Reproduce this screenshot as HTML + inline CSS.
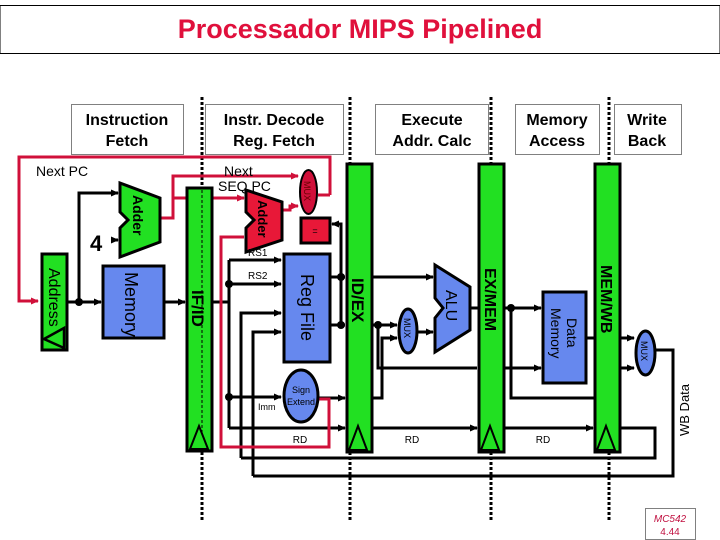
<!DOCTYPE html>
<html><head><meta charset="utf-8"><style>
html,body{margin:0;padding:0;background:#fff;}
svg{display:block;font-family:"Liberation Sans",sans-serif;}
</style></head><body>
<svg width="720" height="540" viewBox="0 0 720 540" xmlns="http://www.w3.org/2000/svg">
<defs>
<marker id="ab" markerWidth="8" markerHeight="8" refX="7" refY="4" orient="auto" markerUnits="userSpaceOnUse"><path d="M0,0.5 L8,4 L0,7.5z" fill="#000"/></marker>
<marker id="ar" markerWidth="8" markerHeight="8" refX="7" refY="4" orient="auto" markerUnits="userSpaceOnUse"><path d="M0,0.5 L8,4 L0,7.5z" fill="#d0103a"/></marker>
</defs>
<rect x="0.5" y="5.5" width="719" height="48" fill="#fff" stroke="#000" stroke-dasharray="1,1"/>
<line x1="0" y1="5.5" x2="720" y2="5.5" stroke="#000" stroke-width="1"/>
<line x1="0" y1="53.5" x2="720" y2="53.5" stroke="#000" stroke-width="1"/>
<text x="360" y="38" text-anchor="middle" font-size="27" font-weight="bold" fill="#e0103c">Processador MIPS Pipelined</text>
<g fill="#fff" stroke="#000" stroke-dasharray="1,1">
<rect x="71.5" y="104.5" width="112" height="50"/>
<rect x="205.5" y="104.5" width="138" height="50"/>
<rect x="375.5" y="104.5" width="113" height="50"/>
<rect x="515.5" y="104.5" width="84" height="50"/>
<rect x="614.5" y="104.5" width="67" height="50"/>
</g>
<g font-size="16" font-weight="bold" text-anchor="middle">
<text x="127" y="125">Instruction</text><text x="127" y="146">Fetch</text>
<text x="274" y="125">Instr. Decode</text><text x="274" y="146">Reg. Fetch</text>
<text x="432" y="125">Execute</text><text x="432" y="146">Addr. Calc</text>
<text x="557" y="125">Memory</text><text x="557" y="146">Access</text>
<text x="647" y="125">Write</text><text x="647" y="146">Back</text>
</g>
<g stroke="#000" stroke-width="3" stroke-dasharray="3,2">
<line x1="202" y1="97" x2="202" y2="520"/>
<line x1="350" y1="97" x2="350" y2="520"/>
<line x1="491" y1="97" x2="491" y2="520"/>
<line x1="609" y1="97" x2="609" y2="520"/>
</g>
<g stroke="#000" stroke-width="3" fill="none">
<polyline points="67,302 101,302" marker-end="url(#ab)"/>
<polyline points="79,302 79,193 118,193" marker-end="url(#ab)"/>
<polyline points="111,240 118,240" marker-end="url(#ab)"/>
<polyline points="164,302 185,302" marker-end="url(#ab)"/>
<polyline points="212,302 229,302"/>
<polyline points="229,260 229,428"/>
<polyline points="229,260 281,260" marker-end="url(#ab)"/>
<polyline points="229,284 281,284" marker-end="url(#ab)"/>
<polyline points="241,458 241,313 281,313" marker-end="url(#ab)"/>
<polyline points="253,476 253,332 281,332" marker-end="url(#ab)"/>
<polyline points="229,397 281,397" marker-end="url(#ab)"/>
<polyline points="229,428 345,428" marker-end="url(#ab)"/>
<polyline points="318,398 345,398" marker-end="url(#ab)"/>
<polyline points="330,277 345,277"/>
<polyline points="330,325 345,325"/>
<polyline points="341,277 341,325"/>
<polyline points="341,277 341,224 332,224" marker-end="url(#ab)"/>
<polyline points="372,277 433,277" marker-end="url(#ab)"/>
<polyline points="372,325 397,325" marker-end="url(#ab)"/>
<polyline points="378,325 378,368 477,368"/>
<polyline points="372,398 382,398 382,338 397,338" marker-end="url(#ab)"/>
<polyline points="417,332 433,332" marker-end="url(#ab)"/>
<polyline points="470,308 479,308"/>
<polyline points="504,308 541,308" marker-end="url(#ab)"/>
<polyline points="511,308 511,398 595,398"/>
<polyline points="504,368 541,368" marker-end="url(#ab)"/>
<polyline points="586,338 595,338"/>
<polyline points="620,338 634,338" marker-end="url(#ab)"/>
<polyline points="620,368 634,368" marker-end="url(#ab)"/>
<polyline points="372,428 477,428" marker-end="url(#ab)"/>
<polyline points="504,428 593,428" marker-end="url(#ab)"/>
<polyline points="620,428 655,428 655,458 241,458"/>
<polyline points="655,350 673,350 673,476 253,476"/>
</g>
<g fill="#000">
<circle cx="79" cy="302" r="4"/><circle cx="229" cy="284" r="4"/><circle cx="229" cy="397" r="4"/>
<circle cx="341" cy="277" r="4"/><circle cx="341" cy="325" r="4"/><circle cx="378" cy="325" r="4"/><circle cx="511" cy="308" r="4"/>
</g>
<g stroke="#d0103a" stroke-width="3" fill="none">
<polyline points="330,195 330,157 19,157 19,301 38,301" marker-end="url(#ar)"/>
<polyline points="330,195 318,195"/>
<polyline points="160,218 173,218 173,176 298,176" marker-end="url(#ar)"/>
<polyline points="173,198 187,198"/>
<polyline points="212,198 244,198" marker-end="url(#ar)"/>
<polyline points="282,210 290,210 290,206 298,206" marker-end="url(#ar)"/>
<polyline points="244,237 221,237 221,447 329,447 329,399 318,399"/>
</g>
<rect x="42" y="254" width="25" height="96" fill="#22e022" stroke="#000" stroke-width="3"/>
<path d="M44,339 L64,328 L64,348 z" fill="#22e022" stroke="#000" stroke-width="2.5"/>
<text transform="translate(49,268) rotate(90)" font-size="16">Address</text>
<rect x="103" y="266" width="61" height="72" fill="#6688ee" stroke="#000" stroke-width="3"/>
<text transform="translate(125,272) rotate(90)" font-size="18">Memory</text>
<path d="M120,183 L160,198 L160,242 L120,257 L120,228 L128,220 L120,212z" fill="#22e022" stroke="#000" stroke-width="3"/>
<text transform="translate(133,195) rotate(90)" font-size="14" font-weight="bold">Adder</text>
<text x="90" y="251" font-size="22" font-weight="bold">4</text>
<text x="36" y="176" font-size="14">Next PC</text>
<text x="224" y="176" font-size="14">Next</text>
<text x="218" y="191" font-size="14">SEQ PC</text>
<rect x="187" y="188" width="25" height="263" fill="#22e022" stroke="#000" stroke-width="3"/>
<line x1="202" y1="190" x2="202" y2="450" stroke="#000" stroke-width="1" stroke-dasharray="3,2"/>
<path d="M190,449 L199,426 L208,449z" fill="#22e022" stroke="#000" stroke-width="2"/>
<text transform="translate(192,290) rotate(90)" font-size="17" font-weight="bold">IF/ID</text>
<path d="M246,190 L282,202 L282,240 L246,252 L246,228 L254,220 L246,212z" fill="#e81838" stroke="#000" stroke-width="3"/>
<text transform="translate(258,200) rotate(90)" font-size="13" font-weight="bold">Adder</text>
<ellipse cx="308.5" cy="192" rx="8.5" ry="22" fill="#d0103a" stroke="#000" stroke-width="2"/>
<text transform="translate(304,181) rotate(90)" font-size="9" fill="#600">MUX</text>
<rect x="301" y="218" width="29" height="25" fill="#e81838" stroke="#000" stroke-width="3"/>
<text x="315" y="234" font-size="9" text-anchor="middle">=</text>
<text x="248" y="256" font-size="10">RS1</text>
<text x="248" y="279" font-size="10">RS2</text>
<rect x="284" y="254" width="46" height="108" fill="#6688ee" stroke="#000" stroke-width="3"/>
<text transform="translate(301,274) rotate(90)" font-size="18">Reg File</text>
<ellipse cx="301" cy="396" rx="17" ry="26" fill="#6688ee" stroke="#000" stroke-width="3"/>
<text x="301" y="393" font-size="9" text-anchor="middle">Sign</text>
<text x="301" y="405" font-size="9" text-anchor="middle">Extend</text>
<text x="258" y="410" font-size="9">Imm</text>
<text x="300" y="443" font-size="10" text-anchor="middle">RD</text>
<rect x="347" y="164" width="25" height="288" fill="#22e022" stroke="#000" stroke-width="3"/>
<path d="M349,450 L358,426 L367,450z" fill="#22e022" stroke="#000" stroke-width="2"/>
<text transform="translate(352,278) rotate(90)" font-size="17" font-weight="bold">ID/EX</text>
<ellipse cx="408" cy="331" rx="9" ry="22" fill="#6688ee" stroke="#000" stroke-width="3"/>
<text transform="translate(404,318) rotate(90)" font-size="9">MUX</text>
<path d="M435,265 L470,287 L470,330 L435,352 L435,318 L443,308 L435,298z" fill="#6688ee" stroke="#000" stroke-width="3"/>
<text transform="translate(446,290) rotate(90)" font-size="16">ALU</text>
<text x="412" y="443" font-size="10" text-anchor="middle">RD</text>
<rect x="479" y="164" width="25" height="288" fill="#22e022" stroke="#000" stroke-width="3"/>
<path d="M481,450 L490,426 L499,450z" fill="#22e022" stroke="#000" stroke-width="2"/>
<text transform="translate(485,268) rotate(90)" font-size="16" font-weight="bold">EX/MEM</text>
<rect x="543" y="292" width="43" height="91" fill="#6688ee" stroke="#000" stroke-width="3"/>
<text transform="translate(567,318) rotate(90)" font-size="14">Data</text>
<text transform="translate(551,308) rotate(90)" font-size="14">Memory</text>
<text x="543" y="443" font-size="10" text-anchor="middle">RD</text>
<rect x="595" y="164" width="25" height="288" fill="#22e022" stroke="#000" stroke-width="3"/>
<path d="M597,450 L606,426 L615,450z" fill="#22e022" stroke="#000" stroke-width="2"/>
<text transform="translate(601,265) rotate(90)" font-size="16" font-weight="bold">MEM/WB</text>
<ellipse cx="645.5" cy="353" rx="9.5" ry="22" fill="#6688ee" stroke="#000" stroke-width="3"/>
<text transform="translate(641,341) rotate(90)" font-size="9">MUX</text>
<text transform="translate(689,436) rotate(-90)" font-size="13">WB Data</text>
<rect x="645.5" y="508.5" width="50" height="31" fill="#fff" stroke="#000" stroke-dasharray="1,1"/>
<text x="670" y="522" font-size="10" text-anchor="middle" fill="#c01040" font-style="italic">MC542</text>
<text x="670" y="535" font-size="10" text-anchor="middle" fill="#c01040">4.44</text>
</svg>
</body></html>
